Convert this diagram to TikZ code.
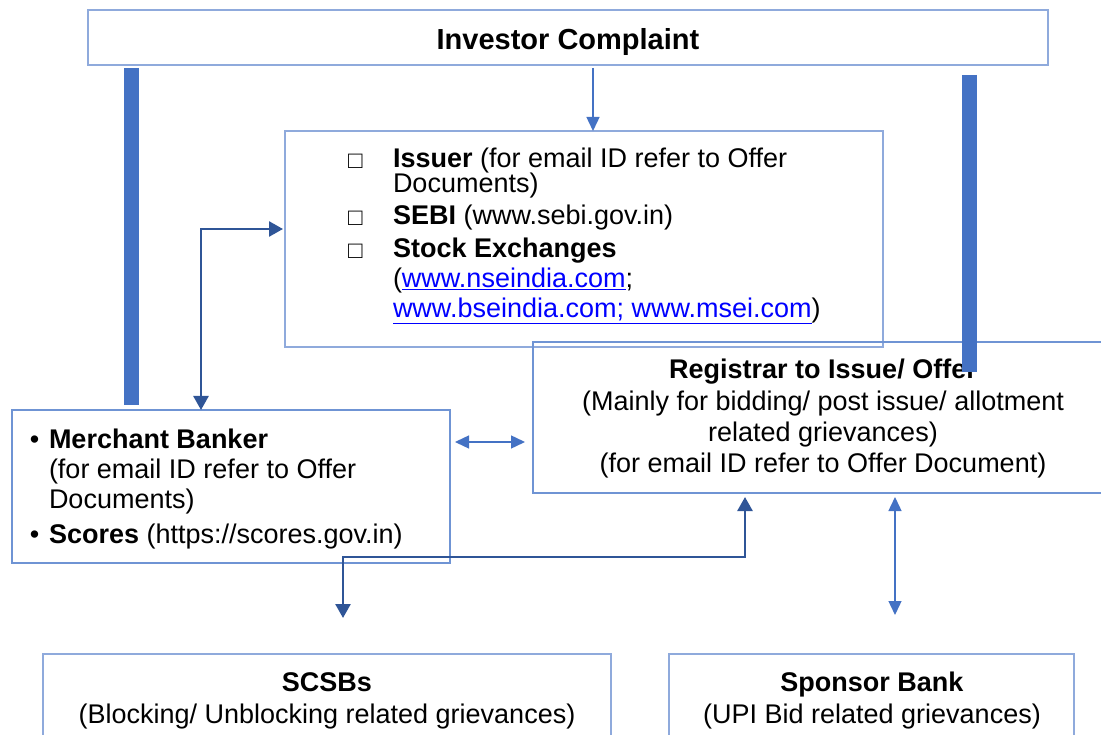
\documentclass[tikz,border=0pt]{standalone}
\usepackage{fontspec}
\setmainfont{Liberation Sans}
\usetikzlibrary{arrows.meta}
\definecolor{boxblue}{HTML}{8FAADC}
\definecolor{boxmid}{HTML}{6F94D4}
\definecolor{barblue}{HTML}{4472C4}
\definecolor{darkarrow}{HTML}{2F5597}
\definecolor{linkblue}{HTML}{0000FF}
\begin{document}
\begin{tikzpicture}[x=1pt,y=-1pt,
  box/.style={draw=boxblue, line width=1.3pt, anchor=north west, inner sep=0pt, outer sep=0pt},
  boxm/.style={box, draw=boxmid},
  bar/.style={draw=barblue, line width=15pt},
  txt/.style={anchor=base west, inner sep=0pt, outer sep=0pt, font=\fontsize{27}{31}\selectfont},
  ctxt/.style={anchor=base, inner sep=0pt, outer sep=0pt, font=\fontsize{27}{31}\selectfont},
  sq/.style={anchor=base west, inner sep=0pt, outer sep=0pt, font=\fontsize{24}{24}\selectfont},
  darr/.style={draw=darkarrow, line width=2.6pt,
    {Triangle[width=15pt,length=14pt]}-{Triangle[width=15pt,length=14pt]}},
  larr/.style={draw=barblue, line width=1.4pt, -{Triangle[width=13pt,length=14pt]}},
  ldarr/.style={draw=barblue, line width=1.4pt,
    {Triangle[width=13pt,length=14pt]}-{Triangle[width=13pt,length=14pt]}}
]
\path[use as bounding box, clip] (0,0) rectangle (1101,735);

% boxes
\node[box, minimum width=960, minimum height=55] (ic) at (88,10) {};
\node[box, minimum width=598, minimum height=216] (iss) at (285,131) {};
\node[boxm, minimum width=600, minimum height=151] (reg) at (533,342) {};
\node[boxm, minimum width=438, minimum height=153] (mb) at (12,410) {};
\node[box, minimum width=568, minimum height=120] (sc) at (43,654) {};
\node[box, minimum width=405, minimum height=120] (sp) at (669,654) {};

% title
\node[ctxt, font=\fontsize{29}{33}\selectfont\bfseries] (ict) at (568,49.5) {Investor Complaint};

% issuer box text
\node[sq] (b1) at (348,169) {□};
\node[sq] (b2) at (348,226) {□};
\node[sq] (b3) at (348,259) {□};
\node[txt] (i1) at (393,168) {\textbf{Issuer} (for email ID refer to Offer};
\node[txt] (i2) at (393,193) {Documents)};
\node[txt] (i3) at (393,225) {\textbf{SEBI} (www.sebi.gov.in)};
\node[txt] (i4) at (393,258) {\textbf{Stock Exchanges}};
\node[txt] (i5) at (393,288) {(\textcolor{linkblue}{\underline{www.nseindia.com}};};
\node[txt] (i6) at (393,318) {\textcolor{linkblue}{\underline{www.bseindia.com; www.msei.com}})};

% merchant banker text
\node[txt] (m0a) at (30,448) {•};
\node[txt] (m0b) at (30,543) {•};
\node[txt] (m1) at (49,448) {\textbf{Merchant Banker}};
\node[txt] (m2) at (49,478) {(for email ID refer to Offer};
\node[txt] (m3) at (49,508) {Documents)};
\node[txt] (m4) at (49,543) {\textbf{Scores} (https://scores.gov.in)};

% registrar text
\node[ctxt] (r1) at (823,379) {\textbf{Registrar to Issue/ Offer}};
\node[ctxt] (r2) at (823,410) {(Mainly for bidding/ post issue/ allotment};
\node[ctxt] (r3) at (823,441) {related grievances)};
\node[ctxt] (r4) at (823,472) {(for email ID refer to Offer Document)};

% bottom boxes text
\node[ctxt] (s1) at (327,691) {\textbf{SCSBs}};
\node[ctxt] (s2) at (327,723) {(Blocking/ Unblocking related grievances)};
\node[ctxt] (p1) at (872,691) {\textbf{Sponsor Bank}};
\node[ctxt] (p2) at (872,723) {(UPI Bid related grievances)};

% helper coordinates
\coordinate (lbx) at (131.5,0);
\coordinate (rbx) at (969.5,0);
\coordinate (ax) at (593,0);
\coordinate (e1) at (201,229);
\coordinate (e2) at (343,557);
\coordinate (e3) at (745,557);
\coordinate (vx) at (895,0);
\coordinate (hy) at (0,442);

% thick bars
\draw[bar] ([yshift=-3pt]ic.south -| lbx) -- ([yshift=5pt]mb.north -| lbx);
\draw[bar] ([yshift=-10pt]ic.south -| rbx) -- ([yshift=-30pt]reg.north -| rbx);

% arrows
\draw[larr] ([yshift=-3pt]ic.south -| ax) -- (iss.north -| ax);
\draw[darr] (mb.north -| e1) |- ([xshift=-2pt]iss.west |- e1);
\draw[darr] ([yshift=36pt]sc.north -| e2) -- (e2) -- (e3) -- ([yshift=-4pt]reg.south -| e3);
\draw[ldarr] ([yshift=-4pt]reg.south -| vx) -- ([yshift=39pt]sp.north -| vx);
\draw[ldarr] ([xshift=5pt]mb.east |- hy) -- ([xshift=-8pt]reg.west |- hy);
\end{tikzpicture}
\end{document}
